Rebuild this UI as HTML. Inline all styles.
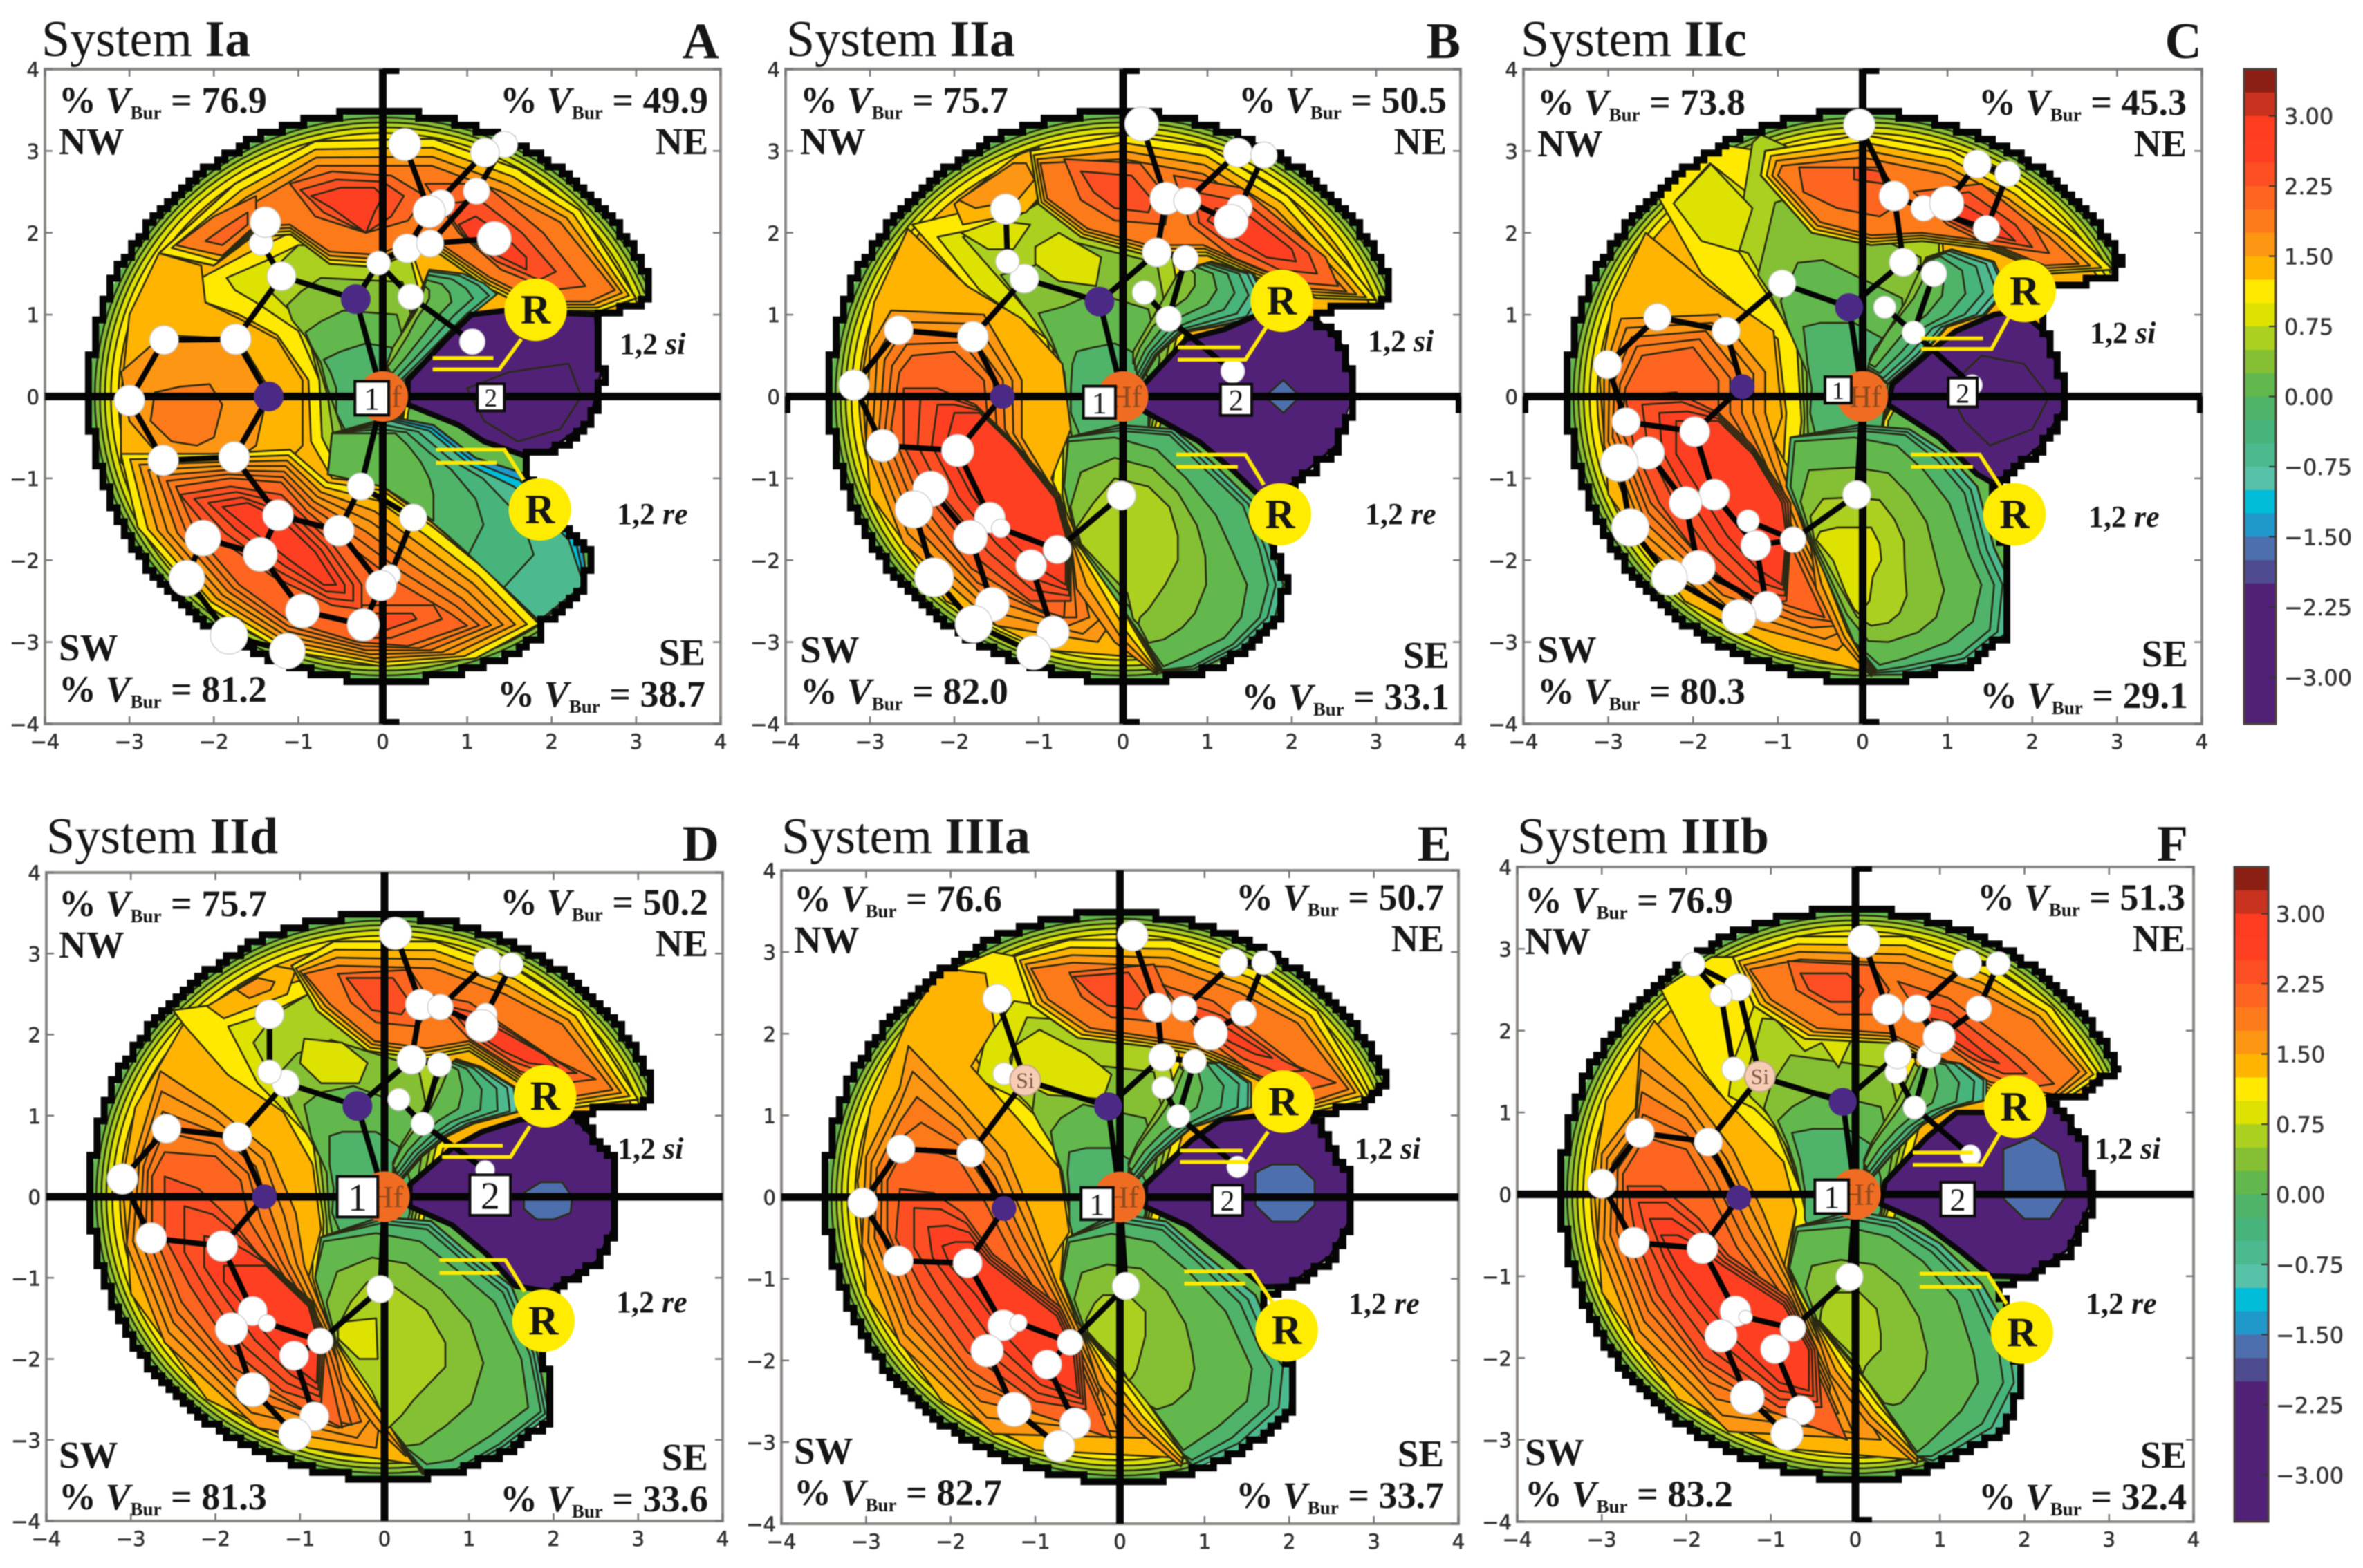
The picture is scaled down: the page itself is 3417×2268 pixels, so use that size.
<!DOCTYPE html>
<html><head><meta charset="utf-8"><title>Steric maps</title>
<style>
html,body{margin:0;padding:0;background:#fff}
svg{display:block;filter:blur(0.9px)}
text{font-family:"Liberation Serif",serif;fill:#161616}
.tk{font-family:"DejaVu Sans",sans-serif;fill:#333;font-size:29px;stroke:#333;stroke-width:.7px}
.cb{font-family:"DejaVu Sans",sans-serif;fill:#3a3636;font-size:32px;stroke:#3a3636;stroke-width:.6px}
</style></head>
<body>
<svg id="fig" xmlns="http://www.w3.org/2000/svg" width="3417" height="2268" viewBox="0 0 3417 2268"></svg>
<script>
/* ---------- values ---------- */
const axisTicks=[-4,-3,-2,-1,0,1,2,3,4];
const colorbarTicks=[3,2.25,1.5,0.75,0,-0.75,-1.5,-2.25,-3];
const bandColors=['#8b1f14','#c8321e','#ff3b20','#ff3f22','#fd4f23','#fd6520','#fd7a1a','#fd9612','#feb400','#ffe900','#dde200','#abd020','#85c034','#62b84c','#4fb369','#46b47b','#4cb98e','#58c2a8','#00bcd8','#2098cc','#4e6fae','#4e4b90','#512178','#512178','#512178','#512178','#512178','#512178'];
const panelTitleRegular=['System ','System ','System ','System ','System ','System '];
const panelTitleBold=['Ia','IIa','IIc','IId','IIIa','IIIb'];
const panelLetters=['A','B','C','D','E','F'];
const vburNW=['76.9','75.7','73.8','75.7','76.6','76.9'];
const vburNE=['49.9','50.5','45.3','50.2','50.7','51.3'];
const vburSW=['81.2','82.0','80.3','81.3','82.7','83.2'];
const vburSE=['38.7','33.1','29.1','33.6','33.7','32.4'];
const rimLevels=[0.25,0.5,0.75,1,1.25];
const rimRadii=[3.41,3.35,3.29,3.22,3.13];
const rimAngles=[[24,303],[24,282],[28,280],[24,285],[24,283],[26,283]];
/* silhouette: closing points after the circular arc, from SE tip back to NE tip */
const edgeA=[[1.84,-2.8],[2.39,-2.32],[2.44,-1.91],[2.1,-1.5],[1.7,-0.9],[1.67,-0.72],[1.95,-0.69],[2.47,-0.31],[2.6,0.28],[2.53,1.0],[3.05,1.14]];
const edgeB=[[0.9,-3.38],[1.45,-3.1],[1.83,-2.68],[1.94,-2.27],[1.8,-1.85],[1.7,-1.4],[1.94,-1.14],[2.55,-0.6],[2.72,0],[2.66,0.58],[2.33,0.94],[2.28,1.05],[3.05,1.12]];
const edgeC=[[1.24,-3.27],[1.68,-2.92],[1.73,-2.27],[1.68,-1.85],[1.5,-1.3],[1.57,-1.08],[2.12,-0.6],[2.4,-0.13],[2.4,0.1],[2.18,0.76],[2.0,1.2],[2.29,1.35],[2.9,1.47],[3.05,1.65]];
const edgeD=[[1.43,-3.14],[1.95,-2.72],[1.9,-1.89],[1.7,-1.4],[1.95,-1.17],[2.52,-0.81],[2.75,-0.33],[2.75,0.45],[2.24,1.05],[2.98,1.11],[3.15,1.29]];
const edgeE=[[1.5,-3.07],[2,-2.59],[2.03,-2.05],[1.8,-1.6],[1.7,-1.2],[2,-1.09],[2.5,-0.73],[2.72,-0.31],[2.72,0.23],[2.33,1.0],[2.94,1.19],[3.15,1.4]];
const edgeF=[[0.93,-3.31],[1.72,-2.9],[1.99,-2.27],[1.8,-1.6],[1.7,-1.1],[2.05,-1.01],[2.52,-0.69],[2.78,-0.15],[2.75,0.63],[2.32,1.16],[2.65,1.19],[3.03,1.52]];
/* contour regions: [levels, outer polygon, inner polygon, line width, spacing power] */
const contoursA=[
[[1,0.75],[[-2.15,1.45],[-1.6,1.75],[-1.1,2.0],[0.3,1.9],[0.6,1],[0.3,-0.2],[0.2,-1.1],[-0.6,-1.0],[-0.85,-0.55],[-0.88,0.2],[-1.25,0.75],[-1.7,1.0],[-2.1,1.15]],[[-1.85,1.45],[-1.4,1.65],[-1,1.85],[0.3,1.8],[0.5,1],[0.25,-0.2],[0.15,-1.05],[-0.5,-0.95],[-0.72,-0.5],[-0.75,0.2],[-1.0,0.8],[-1.5,1.15],[-1.75,1.3]]],
[[0.5,0.25,0,-0.25],[[-1.35,1.45],[-1.2,1.65],[-1,1.85],[0.3,1.8],[0.5,1],[0.25,-0.2],[0.15,-1.05],[-0.5,-0.95],[-0.72,-0.5],[-0.75,0.2],[-0.9,0.8],[-1.1,1.05],[-1.3,1.25]],[[-0.7,0.45],[-0.5,0.55],[-0.2,0.65],[0.1,0.6],[0.2,0.2],[0.2,-0.2],[0.1,-0.55],[-0.1,-0.6],[-0.3,-0.55],[-0.45,-0.4],[-0.55,-0.2],[-0.55,0.1],[-0.62,0.3]]],
[[1.25],[[-2.65,1.75],[-2.15,1.6],[-2.1,1.15],[-1.7,0.95],[-1.25,0.7],[-0.95,0.2],[-0.95,-0.6],[-1.5,-1.2],[-2.5,-1.5],[-3.1,-0.8],[-3.1,0],[-3.0,1.0]]],
[[1.5,1.75],[[-3.1,0.3],[-2.6,0.75],[-1.7,0.7],[-1.35,0.1],[-1.5,-0.6],[-1.75,-0.78],[-2.6,-0.78],[-3.0,-0.3]],[[-2.7,0.05],[-2.4,0.12],[-2.05,0.15],[-1.9,-0.1],[-2.0,-0.5],[-2.2,-0.6],[-2.5,-0.55],[-2.75,-0.3]]],
[[1,1.25,1.5,1.625,1.75,1.875,2],[[-3.1,-0.7],[-2,-0.7],[-1.1,-0.65],[-0.65,-1.05],[0,-1.15],[0.6,-1.6],[1.2,-2.1],[1.85,-2.78],[1.1,-3.2],[0,-3.3],[-1.2,-3.1],[-2.1,-2.55],[-2.9,-1.6]],[[-2.45,-1.1],[-1.8,-1.0],[-1.2,-1.05],[-0.9,-1.4],[-0.3,-1.9],[0.15,-2.25],[0.8,-2.65],[1.0,-2.8],[0.3,-3.05],[-0.3,-3.0],[-1.1,-2.75],[-1.7,-2.3],[-2.2,-1.7]]],
[[2,2.25],[[-0.25,-2.55],[0.6,-2.55],[0.7,-2.72],[0.1,-2.95],[-0.25,-2.95]],[[-0.1,-2.65],[0.35,-2.65],[0.4,-2.72],[0.05,-2.85],[-0.15,-2.85]]],
[[2.25,2.375,2.5,2.625],[[-2.4,-1.2],[-1.8,-1.1],[-1.2,-1.2],[-0.6,-1.8],[-0.25,-2.3],[-0.25,-2.6],[-0.6,-2.55],[-1.3,-2.2],[-2,-1.7]],[[-1.9,-1.35],[-1.6,-1.3],[-1.2,-1.5],[-0.8,-1.9],[-0.55,-2.3],[-0.55,-2.3],[-0.7,-2.3],[-1.1,-2.0],[-1.6,-1.6]]],
[[-1.5,-1.25,-1],[[0.1,-0.25],[0.6,-0.35],[1.1,-0.75],[1.7,-0.95],[2.35,-1.7],[2.42,-2.3],[1.88,-2.78],[1.2,-2.1],[0.6,-1.55],[0,-1.1],[-0.65,-0.95],[-0.6,-0.45]],[[0.1,-0.3],[0.55,-0.42],[1.05,-0.85],[1.55,-1.1],[2.2,-1.75],[2.38,-2.3],[1.85,-2.74],[1.2,-2.1],[0.6,-1.55],[0,-1.1],[-0.65,-0.95],[-0.6,-0.45]],3],
[[-0.75,-0.5,-0.25,0],[[0.1,-0.3],[0.55,-0.42],[1.05,-0.85],[1.55,-1.1],[2.2,-1.75],[2.38,-2.3],[1.85,-2.74],[1.2,-2.1],[0.6,-1.55],[0,-1.1],[-0.65,-0.95],[-0.6,-0.45]],[[-0.1,-0.45],[0.15,-0.45],[0.3,-0.6],[0.45,-0.8],[0.55,-1.0],[0.6,-1.2],[0.6,-1.52],[0.5,-1.45],[0.3,-1.3],[0,-1.1],[-0.65,-0.95],[-0.6,-0.45]]],
[[1,1.25,1.5,1.75],[[-2.65,1.75],[-2,1.6],[-1.55,1.95],[-1.09,1.98],[-0.63,1.62],[-0.06,1.58],[0.52,1.85],[1.26,1.32],[1.78,1.05],[2.59,1.05],[3.0,1.2],[2.33,2.28],[1.6,2.78],[0.6,3.15],[-0.8,3.12],[-1.75,2.6]],[[-2.2,1.95],[-1.85,1.78],[-1.5,2.08],[-1.1,2.1],[-0.63,1.77],[-0.06,1.73],[0.52,1.98],[1.26,1.46],[1.85,1.16],[2.45,1.16],[2.75,1.3],[2.1,2.13],[1.42,2.5],[0.58,2.82],[-0.78,2.82],[-1.55,2.35]],3],
[[2,2.25,2.5],[[-1.1,2.6],[-0.8,2.2],[-0.2,2.0],[0.3,2.15],[0.5,2.45],[0.1,2.7],[-0.6,2.75]],[[-0.85,2.45],[-0.6,2.3],[-0.2,2.0],[-0.1,2.25],[0,2.45],[-0.1,2.55],[-0.5,2.55]]],
[[2,2.25,2.5],[[0.5,2.6],[0.9,2.0],[1.4,1.55],[2.0,1.3],[2.4,1.35],[1.9,2.0],[1.2,2.6]],[[0.9,2.1],[1,1.95],[1.3,1.75],[1.7,1.55],[1.7,1.7],[1.4,2.0],[1.1,2.2]]],
[[1.75,2],[[-2.45,1.85],[-1.9,1.72],[-1.5,2.1],[-1.5,2.45],[-2.0,2.2]],[[-2.1,1.9],[-1.9,1.85],[-1.6,2.1],[-1.6,2.25],[-1.9,2.05]]],
[[-0.75,-0.5,-0.25,0,0.25],[[0.2,0.15],[0.45,0.4],[0.75,0.7],[1.05,1.0],[1.35,1.25],[1.2,1.38],[0.95,1.5],[0.55,1.55],[0.35,1.05],[0.12,0.55],[0.05,0.3]],[[0.05,0.35],[0.15,0.5],[0.3,0.75],[0.4,0.95],[0.5,1.1],[0.55,1.2],[0.55,1.3],[0.5,1.35],[0.4,1.05],[0.12,0.6],[0.05,0.4]],null,1.6],
[[-2.25],[[0.3,0.2],[0.75,0.7],[1.05,1.0],[1.45,1.05],[2.53,1.0],[2.6,0.28],[2.47,-0.31],[1.95,-0.69],[1.67,-0.72],[1.2,-0.55],[0.9,-0.35],[0.3,-0.1]],null,8],
[[-2.5],[[1.0,0.1],[1.5,0.3],[2.2,0.4],[2.35,0],[2.1,-0.4],[1.6,-0.55],[1.2,-0.3]]]
];
const contoursB=[
[[1,0.75],[[-2.5,2.1],[-1.7,2.3],[-0.8,2.6],[0.5,2.3],[0.8,1],[0.4,-0.5],[0.3,-2],[0,-3.2],[-0.7,-2],[-0.85,-1.2],[-0.75,-0.3],[-1.1,0.7],[-1.9,1.4]],[[-2.2,1.95],[-1.5,2.1],[-0.8,2.5],[0.5,2.2],[0.7,1],[0.35,-0.5],[0.2,-2],[-0.1,-2.9],[-0.55,-2],[-0.72,-1.2],[-0.7,-0.3],[-0.9,0.7],[-1.7,1.3]]],
[[0.5,0.25,0,-0.25],[[-1.9,1.95],[-1.4,2.1],[-0.8,2.5],[0.5,2.2],[0.7,1],[0.35,-0.5],[0.2,-2],[-0.1,-2.9],[-0.55,-2],[-0.72,-1.2],[-0.7,-0.3],[-0.85,0.7],[-1.35,1.3]],[[-0.55,0.55],[-0.35,0.6],[-0.1,0.65],[0.2,0.5],[0.3,0.2],[0.3,-0.2],[0.3,-0.5],[0,-0.55],[-0.3,-0.55],[-0.5,-0.5],[-0.62,-0.2],[-0.62,0.1],[-0.6,0.4]]],
[[0.75],[[-1.04,1.83],[-0.76,2.0],[-0.26,1.7],[-0.32,1.35],[-0.76,1.41],[-1.04,1.62]]],
[[0.75],[[-1.92,2.0],[-1.5,2.15],[-1.1,2.1],[-1.3,1.8],[-1.6,1.8]]],
[[1.25],[[-2.55,2.05],[-1.85,1.35],[-1.2,0.95],[-0.72,0.4],[-0.62,-0.4],[-0.85,-1],[-0.55,-1.7],[-0.1,-2.5],[0.35,-3.2],[-0.9,-3.1],[-2.1,-2.5],[-3.0,-1.2],[-3.1,0.2],[-2.95,1.15]]],
[[1.25,1.5],[[-2.0,2.35],[-1.25,2.95],[-1.0,3.05],[-0.85,2.6],[-1.15,2.25],[-1.9,2.1]],[[-1.95,2.4],[-1.3,2.85],[-1.15,2.85],[-1.05,2.65],[-1.25,2.4],[-1.75,2.3]]],
[[1.5,1.625,1.75,1.875,2],[[-3.0,0.6],[-2.75,1.05],[-1.65,1.0],[-1.2,0.2],[-1.2,-0.5],[-0.85,-1.1],[-0.55,-1.8],[-0.1,-2.7],[-0.3,-3.0],[-1.5,-2.8],[-2.6,-1.8],[-3.05,-0.6]],[[-2.65,0.3],[-2.5,0.5],[-2.0,0.55],[-1.65,0.2],[-1.6,-0.3],[-1.3,-0.8],[-0.65,-1.75],[-0.7,-2.7],[-1.0,-2.6],[-1.8,-2.1],[-2.4,-1.3],[-2.75,-0.4]]],
[[2.25,2.375,2.5,2.625],[[-2.6,0.1],[-2.2,0.1],[-1.75,-0.1],[-1.3,-0.55],[-0.75,-1.2],[-0.62,-1.7],[-0.62,-2.5],[-1.1,-2.5],[-1.7,-2.0],[-2.25,-1.3],[-2.6,-0.6]],[[-2.0,-0.2],[-1.9,-0.2],[-1.7,-0.2],[-1.3,-0.6],[-0.8,-1.25],[-0.68,-1.7],[-0.68,-2.3],[-1.0,-2.1],[-1.4,-1.7],[-1.8,-1.2],[-2.1,-0.6]]],
[[1.5,1.25,1,0.75],[[-0.62,-1.75],[-0.55,-2.35],[-0.1,-3.0],[0.4,-3.4],[0.6,-3.0],[0.2,-2.5],[-0.4,-1.7]],[[-0.6,-1.75],[-0.2,-2.2],[0.1,-2.8],[0.42,-3.35],[0.6,-3.0],[0.2,-2.5],[-0.4,-1.7]]],
[[-0.75,-0.5,-0.25],[[-0.05,-0.35],[0.6,-0.4],[1.05,-0.8],[1.55,-1.3],[1.75,-1.85],[1.9,-2.3],[1.8,-2.7],[1.4,-3.08],[0.85,-3.36],[0.45,-3.36],[0.1,-2.75],[-0.55,-1.78],[-0.7,-1.1],[-0.65,-0.5]],[[-0.05,-0.42],[0.55,-0.47],[0.95,-0.87],[1.42,-1.33],[1.62,-1.87],[1.72,-2.3],[1.62,-2.7],[1.3,-3.03],[0.82,-3.3],[0.47,-3.34],[0.1,-2.75],[-0.55,-1.78],[-0.7,-1.1],[-0.65,-0.5]],3],
[[0,0.25,0.5],[[-0.1,-0.5],[0.4,-0.65],[0.75,-1.0],[1.1,-1.45],[1.3,-1.9],[1.47,-2.3],[1.4,-2.7],[1.2,-2.95],[0.8,-3.15],[0.48,-3.3],[0.1,-2.75],[-0.55,-1.78],[-0.7,-1.1],[-0.65,-0.55]],[[-0.1,-1.0],[0.3,-1.1],[0.55,-1.35],[0.65,-1.7],[0.65,-2.0],[0.5,-2.3],[0.3,-2.6],[0.2,-2.7],[0.18,-2.78],[0.12,-2.72],[0.05,-2.4],[-0.5,-1.8],[-0.55,-1.6],[-0.35,-1.3]]],
[[1,1.25,1.5,1.75],[[-1.1,3.0],[0,3.2],[1,3.05],[1.95,2.45],[2.75,1.5],[3.0,1.18],[2.3,1.2],[1.6,1.45],[1,1.72],[0.3,1.72],[-0.5,1.95],[-1,2.35]],[[-0.98,2.85],[0,2.9],[0.95,2.72],[1.75,2.2],[2.5,1.45],[2.65,1.28],[2.2,1.32],[1.55,1.58],[0.95,1.85],[0.3,1.85],[-0.42,2.05],[-0.9,2.42]],3],
[[2,2.25],[[-0.7,2.9],[0.2,2.85],[0.55,2.4],[0.5,2.1],[-0.1,2.15],[-0.5,2.4]],[[-0.5,2.75],[0.1,2.7],[0.35,2.4],[0.3,2.25],[-0.1,2.3],[-0.35,2.5]]],
[[2,2.25,2.5],[[0.6,2.7],[1.4,2.55],[2.4,1.7],[2.55,1.35],[2.0,1.4],[1.3,1.7],[0.8,2.1]],[[1.1,2.3],[1.5,2.2],[2.0,1.8],[2.05,1.65],[1.7,1.7],[1.3,1.95],[1.0,2.15]]],
[[-1.25,-1,-0.75,-0.5,-0.25,0,0.25],[[0.2,0.15],[0.4,0.5],[0.7,0.78],[1.1,0.85],[1.55,0.95],[1.7,1.2],[1.55,1.5],[1.05,1.65],[0.7,1.55],[0.45,1.05],[0.15,0.5]],[[0.12,0.4],[0.2,0.6],[0.35,0.85],[0.55,1.05],[0.75,1.2],[0.85,1.35],[0.85,1.5],[0.8,1.55],[0.65,1.5],[0.4,1.05],[0.12,0.55]],null,2],
[[-2.25],[[0.25,0.15],[0.75,0.7],[1.2,0.82],[1.6,1.0],[2.33,0.94],[2.66,0.58],[2.75,0],[2.55,-0.6],[1.94,-1.14],[1.7,-1.3],[1.3,-0.9],[0.9,-0.55],[0.2,-0.15]],null,8],
[[-1.75],[[1.68,0],[1.9,0.2],[2.1,0],[1.9,-0.2]]]
];
const contoursC=[
[[1,0.75],[[-2.5,2.6],[-1.8,3.1],[-1.2,3.0],[0.9,2.5],[1.0,1],[0.3,-0.3],[0.2,-2],[-0.1,-3.2],[-0.65,-2],[-0.95,-1.1],[-0.9,-0.2],[-1.0,0.7],[-1.9,1.5]],[[-2.2,2.4],[-1.8,2.85],[-1.25,2.4],[0.9,2.2],[0.9,1],[0.25,-0.3],[0.1,-2],[-0.15,-2.9],[-0.6,-2],[-0.8,-1.1],[-0.72,-0.3],[-0.78,0.7],[-1.45,1.75]]],
[[0.5,0.25,0,-0.25],[[-1.5,1.8],[-1.3,3.1],[-1.2,3.2],[0.9,2.2],[0.9,1],[0.25,-0.3],[0.1,-2],[-0.15,-2.9],[-0.6,-2],[-0.8,-1.1],[-0.72,-0.3],[-0.78,0.7],[-1.35,1.75]],[[-0.7,0.85],[-0.5,0.9],[-0.1,0.9],[0.25,0.7],[0.3,0.2],[0.25,-0.2],[0.2,-0.55],[-0.1,-0.55],[-0.3,-0.55],[-0.55,-0.5],[-0.62,-0.2],[-0.6,0.1],[-0.65,0.4]]],
[[0.75],[[-2.23,2.36],[-1.79,2.84],[-1.3,2.3],[-1.46,1.77],[-1.9,1.9]]],
[[1.25],[[-2.56,2.0],[-1.8,1.35],[-1.05,0.8],[-0.95,-0.25],[-1.05,-0.55],[-0.75,-1.1],[-0.65,-1.7],[-0.2,-2.6],[0,-3.35],[-1,-3.1],[-2.1,-2.5],[-3,-1.2],[-3.1,0.2],[-2.95,1.15]]],
[[1.5,1.625,1.75,1.875,2],[[-3.05,0.3],[-2.85,0.95],[-1.7,1.0],[-1.15,0.3],[-1.15,-0.2],[-0.95,-0.9],[-0.65,-1.75],[-0.1,-2.9],[-0.3,-3.1],[-1.5,-2.75],[-2.6,-1.8],[-3.05,-0.6]],[[-2.8,0.1],[-2.6,0.5],[-2.0,0.6],[-1.7,0.2],[-1.7,-0.2],[-1.4,-0.6],[-0.9,-1.7],[-0.45,-2.7],[-0.9,-2.55],[-1.8,-2.1],[-2.5,-1.3],[-2.85,-0.4]]],
[[2.25,2.375,2.5,2.625],[[-2.8,0],[-2.2,0.05],[-1.7,-0.2],[-1.3,-0.6],[-0.85,-1.3],[-0.85,-1.7],[-0.9,-2.5],[-1.3,-2.55],[-1.9,-2.0],[-2.4,-1.3],[-2.7,-0.6]],[[-2.2,-0.3],[-2,-0.3],[-1.7,-0.3],[-1.3,-0.7],[-0.95,-1.3],[-0.9,-1.7],[-0.95,-2.3],[-1.25,-2.1],[-1.6,-1.7],[-1.9,-1.2],[-2.2,-0.7]]],
[[1.5,1.25,1,0.75],[[-0.62,-1.75],[-0.55,-2.35],[-0.25,-3.0],[0.1,-3.42],[0.2,-3],[0,-2.5],[-0.5,-1.7]],[[-0.6,-1.75],[-0.35,-2.2],[-0.15,-2.8],[0.12,-3.38],[0.2,-3],[0,-2.5],[-0.5,-1.7]]],
[[-0.75,-0.5,-0.25],[[-0.05,-0.35],[0.55,-0.4],[1.0,-0.7],[1.35,-1.1],[1.55,-1.85],[1.75,-2.3],[1.68,-2.9],[1.25,-3.25],[0.5,-3.4],[0.15,-3.4],[-0.1,-3],[-0.62,-1.75],[-0.9,-1.1],[-0.85,-0.5]],[[-0.05,-0.42],[0.5,-0.47],[0.88,-0.78],[1.2,-1.18],[1.38,-1.9],[1.55,-2.3],[1.5,-2.85],[1.15,-3.15],[0.5,-3.3],[0.17,-3.35],[-0.1,-3],[-0.62,-1.75],[-0.9,-1.1],[-0.85,-0.5]],3],
[[0,0.25,0.5,0.75],[[-0.1,-0.5],[0.4,-0.6],[0.72,-0.9],[1.02,-1.3],[1.25,-1.95],[1.4,-2.3],[1.3,-2.75],[1.0,-3.0],[0.5,-3.2],[0.2,-3.28],[-0.1,-3],[-0.62,-1.75],[-0.85,-1.1],[-0.8,-0.55]],[[-0.1,-1.6],[0.1,-1.6],[0.2,-1.8],[0.22,-2.0],[0.12,-2.2],[0.08,-2.5],[0,-2.6],[-0.05,-2.65],[-0.1,-2.6],[-0.2,-2.4],[-0.35,-2],[-0.55,-1.75],[-0.5,-1.65],[-0.3,-1.6]]],
[[1,1.25,1.5,1.75],[[-1.2,2.7],[-0.6,2.0],[0.1,1.85],[0.7,1.9],[1.5,1.8],[2.2,1.5],[2.95,1.55],[2.55,1.95],[1.85,2.55],[1.05,3.0],[0,3.2],[-1.15,3.0]],[[-1.0,2.7],[-0.5,2.13],[0.1,1.97],[0.7,2.0],[1.45,1.9],[2.15,1.6],[2.55,1.62],[2.2,1.95],[1.65,2.35],[0.95,2.72],[0,2.92],[-0.95,2.82]],3],
[[2],[[-0.75,2.8],[0.2,2.8],[0.5,2.4],[0.2,2.2],[-0.3,2.3],[-0.7,2.5]]],
[[2.25],[[-0.1,2.8],[0.2,2.75],[0.25,2.6],[-0.1,2.65]]],
[[2,2.25,2.5],[[0.6,2.5],[1.0,2.1],[1.5,1.85],[2.2,1.75],[2,2.1],[1.4,2.6]],[[0.9,2.35],[1,2.2],[1.4,2],[1.8,1.9],[1.6,2.1],[1.1,2.4]]],
[[-1.25,-1,-0.75,-0.5,-0.25,0,0.25],[[0.3,0.15],[0.7,0.5],[1.0,0.85],[1.45,1.0],[1.7,1.3],[1.55,1.65],[1.05,1.8],[0.75,1.7],[0.5,1.1],[0.1,0.5],[0.05,0.3]],[[0.08,0.45],[0.15,0.6],[0.3,0.8],[0.45,1.0],[0.6,1.2],[0.7,1.4],[0.75,1.6],[0.7,1.6],[0.5,1.15],[0.15,0.55],[0.08,0.45]],null,2],
[[-2.25],[[0.35,0.15],[0.8,0.55],[1.1,0.8],[1.55,1.0],[1.85,1.05],[2.18,0.76],[2.4,0.1],[2.4,-0.13],[2.12,-0.6],[1.57,-1.08],[1.35,-0.95],[0.9,-0.5],[0.3,-0.1]],null,8],
[[-2.5],[[1.0,0.1],[1.4,0.5],[1.9,0.4],[2.2,0],[2.0,-0.4],[1.5,-0.6],[1.2,-0.3]]]
];
const contoursD=[
[[1,0.75],[[-2.5,2.3],[-1.8,2.4],[-0.9,2.7],[0.5,2.3],[0.8,1],[0.4,-0.5],[0.3,-2],[0.4,-3.3],[-0.6,-1.9],[-0.85,-1.0],[-0.85,-0.3],[-1.05,0.7],[-1.9,1.45]],[[-1.85,2.1],[-1.4,2.25],[-0.9,2.5],[0.5,2.1],[0.7,1],[0.35,-0.5],[0.25,-2],[0.3,-3.1],[-0.5,-1.9],[-0.75,-1.0],[-0.72,-0.3],[-0.85,0.7],[-1.5,1.4]]],
[[0.5,0.25,0,-0.25],[[-1.55,1.9],[-1.3,2.25],[-0.9,2.5],[0.5,2.1],[0.7,1],[0.35,-0.5],[0.25,-2],[0.3,-3.1],[-0.5,-1.9],[-0.75,-1.0],[-0.72,-0.3],[-0.85,0.7],[-1.3,1.4]],[[-0.65,0.75],[-0.5,0.8],[-0.1,0.8],[0.2,0.6],[0.3,0.2],[0.3,-0.2],[0.2,-0.55],[-0.1,-0.55],[-0.3,-0.55],[-0.5,-0.5],[-0.62,-0.2],[-0.6,0.1],[-0.65,0.4]]],
[[0.75],[[-0.95,1.95],[-0.5,1.9],[-0.2,1.65],[-0.3,1.4],[-0.75,1.4],[-1.0,1.65]]],
[[1.25],[[-2.38,2.13],[-1.85,1.5],[-1.2,1.05],[-0.85,0.4],[-0.75,-0.4],[-0.9,-1.0],[-0.6,-1.7],[-0.3,-2.4],[0.35,-3.3],[-0.9,-3.1],[-2.1,-2.5],[-3,-1.2],[-3.1,0.2],[-2.95,1.1]]],
[[1.25,1.5],[[-2.1,2.35],[-1.3,2.85],[-1.05,2.8],[-1.15,2.5],[-1.9,2.2]],[[-1.75,2.55],[-1.5,2.7],[-1.3,2.65],[-1.35,2.55],[-1.6,2.45]]],
[[1.5,1.625,1.75,1.875,2],[[-2.95,0.5],[-2.65,1.55],[-2.0,1.1],[-1.35,0.55],[-1.05,-0.2],[-0.95,-0.85],[-0.6,-1.75],[-0.05,-2.7],[-0.1,-3.1],[-1.5,-2.85],[-2.6,-1.8],[-3.05,-0.6]],[[-2.75,0.25],[-2.6,0.55],[-2.0,0.5],[-1.7,0.2],[-1.6,-0.3],[-1.3,-0.8],[-0.75,-1.7],[-0.5,-2.85],[-1.0,-2.6],[-1.8,-2.1],[-2.4,-1.3],[-2.75,-0.4]]],
[[2.25,2.375,2.5,2.625],[[-2.6,0.25],[-2.2,0.1],[-1.8,-0.3],[-1.5,-0.7],[-0.85,-1.3],[-0.7,-1.8],[-0.75,-2.55],[-1.2,-2.4],[-1.8,-1.9],[-2.3,-1.1],[-2.6,-0.5]],[[-1.9,-0.85],[-1.7,-0.85],[-1.55,-0.85],[-1.4,-0.85],[-0.9,-1.35],[-0.78,-1.8],[-0.8,-2.3],[-1.05,-2.1],[-1.4,-1.7],[-1.7,-1.3],[-1.9,-1.05]]],
[[1.5,1.25,1,0.75],[[-0.62,-1.75],[-0.5,-2.3],[-0.1,-2.85],[0.25,-3.2],[0.3,-2.9],[0,-2.4],[-0.5,-1.7]],[[-0.6,-1.75],[-0.25,-2.15],[0.02,-2.6],[0.22,-3.08],[0.3,-2.9],[0,-2.4],[-0.5,-1.7]]],
[[-0.75,-0.5,-0.25],[[-0.05,-0.25],[0.55,-0.3],[1.0,-0.7],[1.5,-1.1],[1.8,-1.9],[1.95,-2.7],[1.43,-3.12],[0.85,-3.42],[0.45,-3.42],[0.2,-3.05],[-0.1,-2.4],[-0.6,-1.75],[-0.82,-1.0],[-0.75,-0.5]],[[-0.05,-0.33],[0.5,-0.4],[0.92,-0.78],[1.4,-1.18],[1.72,-1.95],[1.85,-2.65],[1.36,-3.05],[0.85,-3.36],[0.47,-3.38],[0.2,-3.05],[-0.1,-2.4],[-0.6,-1.75],[-0.82,-1.0],[-0.75,-0.5]],3],
[[0,0.25,0.5],[[-0.1,-0.45],[0.42,-0.55],[0.85,-0.9],[1.3,-1.3],[1.62,-2.0],[1.7,-2.6],[1.25,-2.95],[0.8,-3.25],[0.5,-3.3],[0.2,-3.05],[-0.1,-2.4],[-0.6,-1.75],[-0.82,-1.0],[-0.72,-0.55]],[[-0.2,-1.05],[0.1,-1.1],[0.5,-1.4],[0.72,-1.8],[0.72,-2.1],[0.35,-2.5],[0.2,-2.7],[0.05,-2.85],[0,-2.85],[-0.02,-2.7],[-0.15,-2.4],[-0.55,-1.8],[-0.55,-1.6],[-0.4,-1.3]]],
[[0.75],[[-0.55,-1.55],[-0.1,-1.5],[-0.08,-2.0],[-0.3,-2.0],[-0.55,-1.75]]],
[[1,1.25,1.5,1.75],[[-1.1,2.85],[-0.8,2.3],[-0.2,1.8],[0.5,1.7],[1,1.8],[1.6,1.4],[2.25,1.1],[3,1.2],[2.33,2.28],[1.6,2.78],[0.6,3.15],[-0.6,3.15]],[[-0.95,2.75],[-0.65,2.38],[-0.12,1.92],[0.5,1.83],[1,1.92],[1.6,1.52],[2.2,1.23],[2.7,1.32],[2.1,2.13],[1.42,2.5],[0.58,2.82],[-0.55,2.85]],3],
[[2,2.25],[[-0.55,2.75],[0.3,2.8],[0.55,2.4],[0.4,2.1],[-0.1,2.15],[-0.4,2.4]],[[-0.45,2.7],[0.1,2.7],[0.3,2.4],[0.2,2.25],[-0.15,2.3],[-0.3,2.5]]],
[[2,2.25,2.5],[[0.5,2.5],[1.0,2.4],[2.0,1.7],[2.5,1.45],[2.1,1.4],[1.6,1.55],[1.0,1.95]],[[1.0,2.2],[1.3,2.1],[1.9,1.75],[2.05,1.6],[1.7,1.65],[1.4,1.8],[1.1,2]]],
[[-1.25,-1,-0.75,-0.5,-0.25,0,0.25],[[0.2,0.2],[0.45,0.5],[0.75,0.75],[1.05,0.9],[1.6,1.05],[1.55,1.35],[1.15,1.6],[0.85,1.7],[0.55,1.1],[0.2,0.6],[0.1,0.3]],[[0.1,0.4],[0.2,0.6],[0.3,0.75],[0.45,0.95],[0.55,1.1],[0.65,1.3],[0.75,1.55],[0.7,1.6],[0.5,1.15],[0.2,0.65],[0.1,0.42]],null,2],
[[-2.25],[[0.3,0.15],[0.8,0.6],[1.15,0.8],[1.6,0.95],[2.24,1.0],[2.75,0.45],[2.75,-0.33],[2.52,-0.81],[1.95,-1.17],[1.55,-1.1],[1.2,-0.7],[0.8,-0.35],[0.3,-0.12]],null,8],
[[-1.75],[[1.65,0.05],[1.85,0.18],[2.1,0.18],[2.22,0],[2.2,-0.2],[2.0,-0.28],[1.8,-0.28],[1.65,-0.15]]]
];
const contoursE=[
[[1,0.75],[[-2.2,2.7],[-1.5,3.0],[-1.25,2.95],[0.6,2.4],[0.8,1],[0.4,-0.5],[0.4,-2],[0.75,-3.1],[-0.45,-1.7],[-0.7,-1.0],[-0.65,-0.3],[-1.25,0.85],[-1.65,1.6]],[[-1.7,1.45],[-1.6,1.9],[-1.25,2.4],[0.5,2.1],[0.7,1],[0.3,-0.5],[0.3,-2],[0.6,-2.9],[-0.4,-1.65],[-0.62,-1.0],[-0.55,-0.3],[-0.85,0.85],[-1.2,1.2]]],
[[0.5,0.25,0,-0.25],[[-1.25,1.3],[-1.3,1.7],[-1.1,2.2],[0.5,2.1],[0.7,1],[0.3,-0.5],[0.3,-2],[0.6,-2.9],[-0.4,-1.65],[-0.62,-1.0],[-0.55,-0.3],[-0.85,0.85],[-1.1,1.15]],[[-0.6,0.55],[-0.4,0.6],[-0.1,0.6],[0.2,0.4],[0.3,0.2],[0.3,-0.2],[0.2,-0.5],[-0.1,-0.6],[-0.3,-0.6],[-0.5,-0.7],[-0.6,-0.3],[-0.6,0.05],[-0.62,0.3]]],
[[0.75],[[-0.95,2.05],[-0.4,1.75],[-0.1,1.5],[-0.2,1.2],[-0.85,1.25],[-1.3,1.5],[-1.25,1.85]]],
[[1.25],[[-2.1,2.8],[-1.59,2.74],[-1.48,2.08],[-1.76,1.6],[-1.2,0.95],[-0.71,0.35],[-0.6,-0.43],[-0.93,-0.97],[-0.43,-1.63],[0.18,-2.35],[0.67,-3.19],[-1,-3.1],[-2.1,-2.5],[-3,-1.2],[-3.1,0.2],[-2.95,1.1],[-2.5,2.2]]],
[[1.5,1.625,1.75,1.875,2],[[-3.0,0.5],[-2.6,1.35],[-2.5,1.85],[-1.9,1.2],[-1.35,0.55],[-1.05,-0.2],[-0.75,-1.05],[-0.4,-1.8],[0.3,-2.95],[-1.5,-2.9],[-2.6,-1.8],[-3.05,-0.6]],[[-2.75,0.2],[-2.6,0.5],[-2.3,0.6],[-1.9,0.45],[-1.6,-0.05],[-1.25,-0.75],[-0.6,-1.75],[-0.1,-2.95],[-1,-2.65],[-1.8,-2.1],[-2.4,-1.3],[-2.75,-0.4]]],
[[2.25,2.375,2.5,2.625],[[-2.6,0.1],[-2.2,0.05],[-1.85,-0.2],[-1.5,-0.7],[-0.7,-1.35],[-0.45,-1.9],[-0.4,-2.6],[-1,-2.5],[-1.8,-1.9],[-2.35,-1.1],[-2.65,-0.5]],[[-2.1,-0.6],[-1.95,-0.55],[-1.75,-0.55],[-1.55,-0.8],[-0.75,-1.45],[-0.55,-1.9],[-0.5,-2.4],[-0.9,-2.2],[-1.35,-1.7],[-1.7,-1.2],[-2,-0.85]]],
[[1.5,1.25,1,0.75],[[-0.45,-1.65],[-0.25,-2.3],[0.2,-2.85],[0.72,-3.3],[0.8,-3.0],[0.3,-2.3],[-0.35,-1.6]],[[-0.43,-1.65],[-0.02,-2.15],[0.3,-2.6],[0.74,-3.15],[0.8,-3.0],[0.3,-2.3],[-0.35,-1.6]]],
[[-0.75,-0.5,-0.25],[[-0.05,-0.2],[0.55,-0.3],[1.0,-0.7],[1.6,-1.2],[1.85,-1.8],[2.05,-2.05],[2.0,-2.6],[1.5,-3.07],[0.85,-3.34],[0.75,-3.15],[0.25,-2.4],[-0.43,-1.65],[-0.7,-1.0],[-0.62,-0.5]],[[-0.05,-0.3],[0.5,-0.4],[0.9,-0.78],[1.42,-1.3],[1.65,-1.85],[1.8,-2.1],[1.75,-2.55],[1.32,-2.95],[0.85,-3.22],[0.75,-3.15],[0.25,-2.4],[-0.43,-1.65],[-0.7,-1.0],[-0.62,-0.5]],3],
[[0,0.25,0.5],[[-0.1,-0.45],[0.4,-0.55],[0.8,-0.9],[1.25,-1.4],[1.45,-1.85],[1.56,-2.1],[1.5,-2.5],[1.15,-2.82],[0.82,-3.05],[0.75,-3.1],[0.25,-2.4],[-0.43,-1.65],[-0.68,-1.0],[-0.6,-0.55]],[[-0.2,-1.2],[0.1,-1.2],[0.3,-1.4],[0.3,-1.7],[0.25,-1.9],[0.2,-2.1],[0.15,-2.2],[0.1,-2.25],[0.05,-2.15],[-0.05,-2.0],[-0.25,-1.8],[-0.38,-1.65],[-0.4,-1.5],[-0.3,-1.3]]],
[[1,1.25,1.5,1.75],[[-1.25,2.95],[-1.05,2.35],[-0.5,1.95],[0.3,1.85],[0.9,1.75],[1.6,1.45],[2.3,1.05],[2.95,1.2],[2.33,2.28],[1.6,2.78],[0.6,3.15],[-0.6,3.15]],[[-1.05,2.8],[-0.85,2.42],[-0.35,2.07],[0.3,1.97],[0.9,1.87],[1.6,1.55],[2.3,1.18],[2.7,1.32],[2.1,2.13],[1.42,2.5],[0.58,2.82],[-0.55,2.87]],3],
[[2,2.25],[[-0.6,2.75],[0.4,2.85],[0.6,2.4],[0.4,2.15],[-0.1,2.2],[-0.45,2.45]],[[-0.55,2.7],[0.1,2.75],[0.3,2.45],[0.2,2.3],[-0.15,2.35],[-0.35,2.5]]],
[[2,2.25,2.5],[[0.5,2.6],[1.1,2.4],[2.1,1.6],[2.55,1.4],[2.15,1.3],[1.6,1.5],[1.0,1.95]],[[1.05,2.15],[1.3,2.05],[1.75,1.75],[1.8,1.7],[1.6,1.75],[1.3,1.9],[1.1,2.05]]],
[[-1,-0.75,-0.5,-0.25,0,0.25],[[0.2,0.2],[0.45,0.5],[0.85,0.85],[1.15,0.95],[1.55,1.1],[1.55,1.4],[1.2,1.65],[0.85,1.65],[0.55,1.05],[0.2,0.6],[0.1,0.3]],[[0.1,0.4],[0.2,0.6],[0.3,0.75],[0.45,0.95],[0.55,1.1],[0.65,1.3],[0.75,1.55],[0.7,1.6],[0.5,1.15],[0.2,0.65],[0.1,0.42]],null,2],
[[-2.25],[[0.3,0.15],[0.85,0.7],[1.2,0.95],[1.7,1.0],[2.33,1.0],[2.72,0.4],[2.72,-0.31],[2.5,-0.73],[2,-1.09],[1.7,-1.1],[1.3,-0.75],[0.8,-0.35],[0.3,-0.12]],null,8],
[[-1.75],[[1.6,0.3],[1.8,0.4],[2.1,0.4],[2.3,0.2],[2.3,-0.1],[2.1,-0.3],[1.8,-0.3],[1.6,-0.1]]]
];
const contoursF=[
[[1,0.75],[[-2.3,2.5],[-1.7,2.9],[-1.45,2.9],[0.6,2.4],[0.8,1],[0.4,-0.5],[0.3,-2],[0.7,-3.2],[-0.6,-1.5],[-0.8,-0.9],[-0.7,-0.2],[-1.35,0.9],[-1.8,1.5]],[[-1.5,1.2],[-1.45,1.6],[-1.2,2.3],[0.5,2.0],[0.7,1],[0.3,-0.5],[0.25,-2],[0.6,-3.0],[-0.5,-1.5],[-0.7,-0.9],[-0.55,-0.2],[-0.95,0.8],[-1.2,1.05]]],
[[0.5,0.25,0,-0.25],[[-1.25,1.2],[-1.25,1.6],[-1.1,2.15],[0.5,2.0],[0.7,1],[0.3,-0.5],[0.25,-2],[0.6,-3.0],[-0.5,-1.5],[-0.7,-0.9],[-0.55,-0.2],[-0.9,0.8],[-1.1,1.05]],[[-0.75,0.75],[-0.5,0.8],[-0.1,0.8],[0.2,0.6],[0.3,0.2],[0.3,-0.2],[0.2,-0.5],[-0.1,-0.6],[-0.3,-0.6],[-0.45,-0.7],[-0.6,-0.3],[-0.6,0.05],[-0.65,0.4]]],
[[0.75],[[-1.0,2.2],[-0.6,1.75],[-0.4,1.85],[-0.2,1.55],[0,2.0],[-0.8,2.3]]],
[[1.25],[[-2.38,2.12],[-1.9,1.55],[-1.35,0.95],[-0.85,0.4],[-0.7,-0.2],[-0.85,-0.9],[-0.55,-1.5],[-0.3,-2.1],[0.73,-3.25],[-0.9,-3.1],[-2.1,-2.5],[-3,-1.2],[-3.1,0.2],[-2.95,1.15]]],
[[1.5,1.625,1.75,1.875,2],[[-3,0.5],[-2.6,1.05],[-2.55,1.8],[-2.0,1.3],[-1.45,0.55],[-1.1,-0.2],[-0.85,-0.85],[-0.5,-1.7],[0.3,-3.0],[-1.5,-2.9],[-2.6,-1.8],[-3.05,-0.6]],[[-2.75,0.25],[-2.6,0.5],[-2.5,0.7],[-2,0.55],[-1.75,0.1],[-1.4,-0.65],[-0.65,-1.7],[-0.1,-3.0],[-1,-2.65],[-1.8,-2.1],[-2.4,-1.3],[-2.75,-0.4]]],
[[2.25,2.375,2.5,2.625],[[-2.7,0.1],[-2.3,0.1],[-1.85,-0.3],[-1.5,-0.75],[-0.8,-1.25],[-0.45,-1.9],[-0.4,-2.6],[-0.9,-2.6],[-1.8,-2],[-2.35,-1.2],[-2.6,-0.5]],[[-2.3,-0.5],[-2.1,-0.5],[-1.9,-0.6],[-1.6,-0.85],[-0.85,-1.35],[-0.55,-1.9],[-0.55,-2.4],[-0.9,-2.3],[-1.4,-1.8],[-1.8,-1.3],[-2.1,-0.9]]],
[[1.5,1.25,1,0.75],[[-0.52,-1.5],[-0.3,-2.2],[0.15,-2.8],[0.72,-3.3],[0.8,-3.0],[0.2,-2.2],[-0.42,-1.45]],[[-0.5,-1.5],[-0.1,-2.05],[0.25,-2.55],[0.74,-3.15],[0.8,-3.0],[0.2,-2.2],[-0.42,-1.45]]],
[[-0.75,-0.5,-0.25],[[-0.05,-0.2],[0.5,-0.3],[1.0,-0.6],[1.5,-1.1],[1.95,-1.9],[2.0,-2.3],[1.72,-2.9],[1.25,-3.15],[0.93,-3.31],[0.73,-3.2],[0.15,-2.3],[-0.5,-1.5],[-0.8,-0.9],[-0.7,-0.4]],[[-0.05,-0.3],[0.45,-0.4],[0.9,-0.7],[1.38,-1.2],[1.7,-1.95],[1.75,-2.3],[1.5,-2.8],[1.15,-3.05],[0.9,-3.2],[0.73,-3.2],[0.15,-2.3],[-0.5,-1.5],[-0.8,-0.9],[-0.7,-0.4]],3],
[[0,0.25,0.5],[[-0.1,-0.4],[0.4,-0.52],[0.8,-0.82],[1.2,-1.3],[1.4,-1.95],[1.45,-2.3],[1.25,-2.65],[1.0,-2.9],[0.85,-3.05],[0.73,-3.15],[0.15,-2.3],[-0.5,-1.5],[-0.78,-0.9],[-0.68,-0.45]],[[-0.25,-1.2],[0.05,-1.2],[0.25,-1.4],[0.3,-1.7],[0.3,-1.9],[0.2,-2.0],[0.12,-2.1],[0.08,-2.2],[0.05,-2.1],[-0.05,-1.95],[-0.25,-1.75],[-0.42,-1.55],[-0.4,-1.4],[-0.35,-1.3]]],
[[1,1.25,1.5,1.75],[[-1.45,2.9],[-1.2,2.3],[-0.6,1.9],[0.4,1.85],[1,1.55],[1.6,1.25],[2.4,1.1],[2.9,1.45],[2.33,2.28],[1.6,2.78],[0.6,3.15],[-0.7,3.15]],[[-1.25,2.75],[-1,2.38],[-0.45,2.03],[0.4,1.97],[1,1.67],[1.6,1.37],[2.35,1.22],[2.65,1.5],[2.1,2.13],[1.42,2.5],[0.58,2.82],[-0.65,2.87]],3],
[[2,2.25],[[-0.8,2.85],[0.2,2.8],[0.4,2.5],[0.3,2.2],[-0.2,2.2],[-0.7,2.5]],[[-0.65,2.7],[-0.1,2.7],[0.1,2.5],[0,2.35],[-0.3,2.35],[-0.55,2.5]]],
[[2,2.25,2.5],[[0.5,2.6],[1.1,2.4],[2.0,1.7],[2.35,1.35],[2.0,1.3],[1.5,1.5],[0.9,1.95]],[[0.9,2.15],[1.1,2.1],[1.5,1.75],[1.7,1.6],[1.5,1.65],[1.2,1.85],[0.95,2.0]]],
[[-1,-0.75,-0.5,-0.25,0,0.25],[[0.2,0.2],[0.45,0.5],[0.8,0.85],[1.15,1.05],[1.55,1.15],[1.55,1.4],[1.25,1.6],[0.95,1.65],[0.6,1.1],[0.2,0.6],[0.1,0.3]],[[0.1,0.4],[0.2,0.6],[0.3,0.75],[0.45,0.95],[0.55,1.1],[0.65,1.3],[0.75,1.55],[0.7,1.6],[0.5,1.15],[0.2,0.65],[0.1,0.42]],null,2],
[[-2.25],[[0.35,0.15],[0.85,0.7],[1.2,1.0],[1.7,1.0],[2.32,1.16],[2.75,0.63],[2.78,-0.15],[2.52,-0.69],[2.05,-1.01],[1.6,-1.0],[1.25,-0.7],[0.8,-0.35],[0.3,-0.12]],null,8],
[[-1.75],[[1.75,0.55],[2.1,0.7],[2.4,0.5],[2.5,0],[2.3,-0.3],[2,-0.3],[1.75,-0.05]]]
];
/* atoms [x, y, radius] in map units; index 0,1 = ligand N atoms */
const atomsA=[[-1.35,0,.17],[-.32,1.19,.17],[-3.0,-.05,.18],[-2.59,.69,.17],[-1.74,.7,.18],[-1.76,-.74,.18],[-2.6,-.78,.18],[-1.2,1.47,.17],[-1.44,1.87,.14],[-1.39,2.13,.18],[-.05,1.63,.14],[.29,1.81,.17],[.56,1.87,.16],[.33,1.22,.15],[1.06,.67,.15],[.69,2.36,.16],[.26,3.08,.19],[.55,2.26,.19],[1.44,3.08,.155],[1.21,2.98,.17],[1.11,2.51,.155],[1.32,1.93,.2],[-.26,-1.1,.16],[.36,-1.48,.16],[-1.24,-1.45,.18],[-.52,-1.64,.18],[-1.45,-1.93,.2],[-2.13,-1.73,.21],[-2.32,-2.22,.21],[-.95,-2.62,.2],[-.23,-2.79,.19],[.09,-2.18,.12],[-.02,-2.31,.18],[-1.82,-2.92,.22],[-1.13,-3.11,.21]];
const bondsA=[[2,3],[3,4],[4,0],[0,5],[5,6],[6,2],[4,7],[7,1],[7,8],[8,9],[1,-1],[1,10],[10,11],[11,17],[17,16],[17,19],[19,18],[18,20],[20,12],[12,21],[10,13],[13,14],[11,12],[-1,22],[22,25],[25,24],[24,5],[24,26],[26,27],[27,28],[28,33],[33,34],[26,29],[29,30],[30,32],[32,25],[32,31],[31,23],[23,22]];
const atomsB=[[-1.43,0,.14],[-.28,1.16,.17],[-3.19,.14,.18],[-2.66,.81,.17],[-1.78,.73,.18],[-1.96,-.66,.19],[-2.85,-.6,.19],[-1.17,1.44,.17],[-1.37,1.65,.14],[-1.39,2.29,.18],[.25,1.27,.14],[.54,.95,.15],[.4,1.76,.17],[.74,1.69,.15],[.22,3.33,.2],[.51,2.42,.19],[.76,2.39,.16],[1.36,2.98,.17],[1.67,2.95,.155],[1.38,2.31,.15],[1.28,2.14,.2],[1.3,.31,.14],[-.02,-1.21,.17],[-.78,-1.87,.165],[-1.09,-2.06,.18],[-1.58,-1.48,.18],[-1.45,-1.61,.11],[-1.81,-1.72,.2],[-2.28,-1.13,.21],[-2.48,-1.38,.22],[-2.24,-2.21,.23],[-1.55,-2.54,.2],[-1.77,-2.78,.22],[-.83,-2.88,.19],[-1.06,-3.13,.2]];
const bondsB=[[2,3],[3,4],[4,0],[0,5],[5,6],[6,2],[4,7],[7,1],[7,8],[8,9],[1,-1],[1,12],[12,15],[15,14],[15,16],[16,20],[20,19],[19,18],[18,17],[17,16],[12,13],[13,11],[11,10],[11,21],[-1,22],[22,23],[23,24],[23,26],[26,25],[25,5],[25,27],[27,28],[28,29],[29,30],[30,32],[32,34],[34,33],[33,24],[27,31],[31,32]];
const atomsC=[[-1.42,.12,.14],[-.16,1.09,.16],[-3.01,.39,.165],[-2.42,.97,.16],[-1.61,.8,.165],[-1.98,-.43,.175],[-2.79,-.31,.165],[-.95,1.38,.16],null,null,[.26,1.09,.13],[.6,.78,.135],[.48,1.64,.165],[.84,1.5,.15],[-.04,3.32,.185],[.37,2.45,.175],[.72,2.3,.15],[1.35,2.84,.165],[1.71,2.72,.15],[1.46,2.05,.155],[.99,2.36,.2],[1.29,.14,.12],[-.07,-1.2,.165],[-.82,-1.75,.15],[-1.26,-1.82,.175],[-1.75,-1.2,.18],[-1.35,-1.52,.13],[-2.09,-1.3,.19],[-2.53,-.69,.19],[-2.87,-.81,.22],[-2.74,-1.6,.22],[-1.94,-2.09,.2],[-2.28,-2.21,.21],[-1.13,-2.57,.18],[-1.46,-2.69,.2]];
const bondsC=[[2,3],[3,4],[4,0],[0,5],[5,6],[6,2],[4,7],[7,1],[1,-1],[1,12],[12,15],[15,14],[15,16],[16,20],[20,17],[17,18],[18,19],[19,16],[12,13],[13,11],[11,10],[11,21],[-1,22],[22,23],[23,24],[23,26],[26,24],[24,25],[25,27],[5,25],[27,28],[28,29],[29,30],[30,32],[32,34],[34,33],[33,24],[27,31],[31,33]];
const atomsD=[[-1.42,0,.14],[-.32,1.12,.17],[-3.1,.22,.18],[-2.58,.84,.17],[-1.74,.74,.17],[-1.92,-.61,.18],[-2.76,-.51,.18],[-1.17,1.4,.16],[-1.36,1.54,.14],[-1.36,2.25,.17],[.17,1.2,.13],[.45,.9,.135],[.32,1.69,.17],[.65,1.63,.14],[.13,3.25,.19],[.43,2.37,.18],[.66,2.34,.15],[1.22,2.89,.165],[1.5,2.86,.14],[1.2,2.25,.13],[1.15,2.11,.19],[1.19,.33,.11],[-.05,-1.14,.16],[-.76,-1.78,.15],[-1.07,-1.96,.17],[-1.56,-1.41,.17],[-1.39,-1.56,.1],[-1.81,-1.63,.19],[-1.56,-2.38,.2],[-.83,-2.71,.17],[-1.06,-2.93,.19]];
const atomsE=[[-1.37,-.14,.14],[-.14,1.11,.16],[-3.04,-.07,.175],[-2.59,.59,.165],[-1.76,.54,.165],[-1.8,-.81,.17],[-2.62,-.78,.175],[-1.37,1.51,.13],[-1.37,1.51,.13],[-1.45,2.43,.17],[.51,1.34,.13],[.69,.99,.135],[.5,1.71,.16],[.88,1.66,.14],[.15,3.2,.18],[.44,2.32,.17],[.76,2.31,.15],[1.34,2.87,.165],[1.7,2.87,.14],[1.46,2.25,.15],[1.07,2.01,.2],[1.39,.37,.125],[.07,-1.09,.16],[-.59,-1.78,.15],[-.86,-2.05,.17],[-1.38,-1.57,.18],[-1.2,-1.54,.1],[-1.57,-1.88,.19],[-1.25,-2.6,.2],[-.53,-2.77,.18],[-.72,-3.05,.185]];
const atomsF=[[-1.38,-.04,.14],[-.15,1.13,.16],[-3.0,.13,.17],[-2.55,.75,.17],[-1.74,.64,.165],[-1.81,-.66,.18],[-2.62,-.59,.18],[-1.44,1.53,.14],[-1.44,1.53,.14],[-1.39,2.53,.16],[.48,1.49,.13],[.7,1.06,.135],[.5,1.7,.16],[.87,1.69,.14],[.1,3.09,.19],[.38,2.26,.18],[.73,2.27,.16],[1.32,2.82,.17],[1.69,2.82,.14],[1.46,2.27,.15],[.99,1.92,.19],[1.36,.48,.12],[-.07,-1.01,.16],[-.74,-1.64,.15],[-.95,-1.89,.17],[-1.42,-1.43,.18],[-1.3,-1.5,.08],[-1.59,-1.73,.19],[-1.28,-2.48,.2],[-.65,-2.64,.17],[-.81,-2.93,.19],[-1.92,2.81,.14],[-1.59,2.43,.13]];
const bondsD=[[2,3],[3,4],[4,0],[0,5],[5,6],[6,2],[4,7],[7,1],[7,8],[8,9],[1,-1],[1,12],[12,15],[15,14],[15,16],[16,20],[20,19],[19,18],[18,17],[17,16],[12,13],[13,11],[11,10],[11,21],[-1,22],[22,23],[23,24],[5,25],[25,26],[26,23],[25,27],[27,28],[28,30],[30,29],[29,24]];
const bondsF=bondsD.concat([[9,31],[31,32],[32,8]]);
/* silicon centre, drawn over the ligand in E and F */
const siliconE=[[-1.12,1.43,.18]];
const siliconF=[[-1.13,1.44,.18]];
const siliconBondsE=[[4,-2],[-2,1],[-2,9],[-2,8]];
/* hafnium-adjacent labels: [x, y, half-size] */
const box1=[[-.13,-.02,.2],[-.28,-.07,.19],[-.29,.08,.155],[-.32,0,.24],[-.27,-.08,.19],[-.28,-.03,.2]];
const box2=[[1.28,-.01,.16],[1.34,-.04,.185],[1.18,.05,.17],[1.25,.02,.24],[1.27,-.04,.18],[1.21,-.06,.2]];
const rSi=[[1.81,1.06],[1.88,1.17],[1.91,1.29],[1.9,1.24],[1.93,1.17],[1.89,1.07]];
const rRe=[[1.86,-1.38],[1.86,-1.44],[1.79,-1.44],[1.88,-1.53],[1.97,-1.63],[1.97,-1.69]];
/* yellow substituent pointer polylines */
const siUpper=[[[.59,.47],[1.31,.47]],[[.65,.6],[1.39,.6]],[[.69,.71],[1.42,.71]],[[.68,.63],[1.4,.63]],[[.71,.57],[1.45,.57]],[[.68,.51],[1.39,.51]]];
const siLower=[[[.59,.33],[1.38,.33],[1.64,.7]],[[.65,.45],[1.45,.45],[1.7,.85]],[[.69,.58],[1.52,.58],[1.74,1.0]],[[.68,.49],[1.49,.49],[1.72,.87]],[[.71,.43],[1.5,.43],[1.75,.8]],[[.68,.36],[1.49,.36],[1.71,.75]]];
const reUpper=[[[.63,-.65],[1.44,-.65],[1.67,-1.02]],[[.63,-.71],[1.45,-.71],[1.67,-1.08]],[[.57,-.71],[1.38,-.71],[1.63,-1.11]],[[.65,-.78],[1.43,-.78],[1.66,-1.17]],[[.76,-.91],[1.56,-.91],[1.81,-1.3]],[[.76,-.97],[1.56,-.97],[1.79,-1.34]]];
const reLower=[[[.63,-.81],[1.35,-.81]],[[.63,-.86],[1.36,-.86]],[[.57,-.86],[1.3,-.86]],[[.65,-.94],[1.36,-.94]],[[.76,-1.06],[1.48,-1.06]],[[.76,-1.13],[1.49,-1.13]]];
/* ---------- layout (pixels) ---------- */
const frames=[[65,100,1042,1047],[1136,100,2112,1047],[2203,100,3184,1047],[67,1262,1045,2200],[1130,1259,2109,2204],[2194,1254,3172,2201]];
const titleSpots=[[60,81],[1137,81],[2199,81],[67,1234],[1130,1234],[2194,1234]];
const letterSpots=[[1040,84],[2112,84],[3184,84],[1040,1245],[2099,1245],[3164,1245]];
const nwSpots=[[85,163],[1157,163],[2223,166],[85,1325],[1148,1318],[2205,1320]];
const neSpots=[[1024,163],[2092,163],[3162,166],[1024,1323],[2088,1316],[3160,1316]];
const swSpots=[[85,1015],[1157,1018],[2223,1018],[85,2183],[1148,2177],[2205,2179]];
const seSpots=[[1020,1022],[2096,1026],[3164,1024],[1024,2186],[2088,2181],[3162,2183]];
const siSpots=[[896,512],[1978,508],[3022,496],[893,1676],[1959,1676],[3029,1676]];
const reSpots=[[892,758],[1974,758],[3020,762],[891,1898],[1950,1900],[3016,1900]];
const crossCaps=['v','vh','vh','','','v'];
const colorbarFrames=[[3245,100,3291,1047,3303],[3231,1254,3280,2201,3291]];

/* ---------- helpers ---------- */
const NS='http://www.w3.org/2000/svg';
const svg=document.getElementById('fig');
function mk(tag,attrs,parent){const el=document.createElementNS(NS,tag);for(const k in attrs)el.setAttribute(k,attrs[k]);(parent||svg).appendChild(el);return el;}
function bandColor(level){const i=Math.ceil((3.25-level)/0.25-1e-6);return bandColors[Math.max(0,Math.min(bandColors.length-1,i))];}
function ptsStr(pts,X,Y){return pts.map(p=>X(p[0]).toFixed(1)+','+Y(p[1]).toFixed(1)).join(' ');}
function arcPts(r,a1,a2){const o=[];for(let a=a1;a<=a2;a+=3)o.push([r*Math.cos(a*Math.PI/180),r*Math.sin(a*Math.PI/180)]);return o;}
function blend(a,b,t){return a.map((p,i)=>[p[0]+(b[i][0]-p[0])*t,p[1]+(b[i][1]-p[1])*t]);}
function stairs(poly){const g=0.085,out=[];for(let i=0;i<poly.length;i++){const a=poly[i],b=poly[(i+1)%poly.length],d=Math.hypot(b[0]-a[0],b[1]-a[1]),n=Math.max(1,Math.ceil(d/0.08));for(let k=0;k<n;k++){const x=Math.round((a[0]+(b[0]-a[0])*k/n)/g)*g,y=Math.round((a[1]+(b[1]-a[1])*k/n)/g)*g;const l=out[out.length-1];if(!l||l[0]!==x||l[1]!==y){if(l&&l[0]!==x&&l[1]!==y)out.push([x,l[1]]);out.push([x,y]);}}}return out;}

const allContours=[contoursA,contoursB,contoursC,contoursD,contoursE,contoursF];
const allEdges=[edgeA,edgeB,edgeC,edgeD,edgeE,edgeF];
const allAtoms=[atomsA,atomsB,atomsC,atomsD,atomsE,atomsF];
const allBonds=[bondsA,bondsB,bondsC,bondsD,bondsD,bondsF];
const allSilicon=[null,null,null,null,siliconE,siliconF];

function vbur(parent,spot,anchor,val,nameStr){
  const t=mk('text',{x:spot[0],y:spot[1],'text-anchor':anchor,'font-size':54,'font-weight':'bold'},parent);
  
  
  const a=mk('tspan',{},t);a.textContent='% ';
  const b=mk('tspan',{'font-style':'italic'},t);b.textContent='V';
  const c=mk('tspan',{'font-size':27,dy:9},t);c.textContent='Bur';
  const d=mk('tspan',{dy:-9},t);d.textContent=' = '+val;
}
function plain(parent,x,y,txt,size,anchor,bold,nameStr){
  const t=mk('text',{x:x,y:y,'font-size':size,'text-anchor':anchor,'font-weight':bold?'bold':'normal'},parent);
  
  
  t.textContent=txt;
  return t;
}

/* ---------- panels ---------- */
frames.forEach((f,pi)=>{
  const g=mk('g',{});
  
  
  const [x0,y0,x1,y1]=f;
  const X=v=>x0+(v+4)*(x1-x0)/8, Y=v=>y1-(v+4)*(y1-y0)/8;
  const sx=(x1-x0)/8;

  /* title and letter */
  const tt=plain(g,titleSpots[pi][0],titleSpots[pi][1],panelTitleRegular[pi],74,'start',false,'panel-title');
  const bold=mk('tspan',{'font-weight':'bold'},tt);bold.textContent=panelTitleBold[pi];
  plain(g,letterSpots[pi][0],letterSpots[pi][1],panelLetters[pi],74,'end',true,'panel-letter');

  /* frame */
  const fr=mk('rect',{x:x0,y:y0,width:x1-x0,height:y1-y0,fill:'none',stroke:'#8c8985','stroke-width':4},g);
  
  
  axisTicks.forEach(v=>{
    const l1=mk('path',{d:`M${X(v)} ${y0}v11M${X(v)} ${y1}v-11M${x0} ${Y(v)}h11M${x1} ${Y(v)}h-11`,stroke:'#777','stroke-width':2.5,fill:'none'},g);
    
    
    const tx=mk('text',{class:'tk',x:X(v),y:y1+36,'text-anchor':'middle'},g);
    
    
    tx.textContent=(v<0?'\u2212':'')+Math.abs(v);
    const ty=mk('text',{class:'tk',x:x0-8,y:Y(v)+11,'text-anchor':'end'},g);
    
    
    ty.textContent=(v<0?'\u2212':'')+Math.abs(v);
  });

  /* contour map clipped by silhouette */
  const ra=rimAngles[pi];
  const outline=arcPts(3.47,ra[0],ra[1]).concat(allEdges[pi]);
  const cid='clip'+pi;
  const cp=mk('clipPath',{id:cid},g);
  mk('polygon',{points:ptsStr(outline,X,Y)},cp);
  const map=mk('g',{'clip-path':`url(#${cid})`},g);
  
  
  const base=mk('polygon',{points:ptsStr(outline,X,Y),fill:bandColor(0)},map);
  
  
  rimLevels.forEach((lv,i)=>{
    const poly=arcPts(rimRadii[i],ra[0]-6,ra[1]+6).concat([[0,0]]);
    const el=mk('polygon',{points:ptsStr(poly,X,Y),fill:bandColor(lv),stroke:'#2a2a14','stroke-width':2.6,'stroke-linejoin':'round'},map);
    
    
  });
  allContours[pi].forEach(reg=>{
    const lv=reg[0],o=reg[1],inn=reg[2],w=reg[3]||2.6,pw=reg[4]||1;
    lv.forEach((L,i)=>{
      const poly=(lv.length>1&&inn)?blend(o,inn,Math.pow(i/(lv.length-1),pw)):o;
      const el=mk('polygon',{points:ptsStr(poly,X,Y),fill:bandColor(L),stroke:i===0&&w>3?'#0a0a0a':'#2a2a14','stroke-width':i===0?w:2.6,'stroke-linejoin':'round'},map);
      
      
    });
  });
  const sil=mk('path',{d:'M'+stairs(outline).map(p=>X(p[0]).toFixed(1)+' '+Y(p[1]).toFixed(1)).join('L')+'Z',fill:'none',stroke:'#050505','stroke-width':10,'stroke-linejoin':'miter'},g);
  
  

  /* quadrant cross */
  const c=crossCaps[pi];
  let dc=`M${X(-4)} ${Y(0)}H${X(4)}M${X(0)} ${Y(4)}V${Y(-4)}`;
  const cross=mk('path',{d:dc,stroke:'#050505','stroke-width':11,fill:'none'},g);
  
  
  let capD='';
  if(c.includes('v'))capD+=`M${X(0)} ${Y(4)+3}h24M${X(0)} ${Y(-4)-3}h24`;
  if(c.includes('h'))capD+=`M${X(-4)+3} ${Y(0)}v24M${X(4)-3} ${Y(0)}v24`;
  if(capD){
    const caps=mk('path',{d:capD,stroke:'#050505','stroke-width':8,fill:'none'},g);
    
    
  }

  /* text annotations */
  vbur(g,nwSpots[pi],'start',vburNW[pi],'vbur-nw');
  vbur(g,neSpots[pi],'end',vburNE[pi],'vbur-ne');
  vbur(g,swSpots[pi],'start',vburSW[pi],'vbur-sw');
  vbur(g,seSpots[pi],'end',vburSE[pi],'vbur-se');
  plain(g,nwSpots[pi][0],nwSpots[pi][1]+60,'NW',55,'start',true,'quadrant-nw');
  plain(g,neSpots[pi][0],neSpots[pi][1]+60,'NE',55,'end',true,'quadrant-ne');
  plain(g,swSpots[pi][0],swSpots[pi][1]-60,'SW',55,'start',true,'quadrant-sw');
  plain(g,seSpots[pi][0],seSpots[pi][1]-60,'SE',55,'end',true,'quadrant-se');
  const si=plain(g,siSpots[pi][0],siSpots[pi][1],'1,2 ',44,'start',true,'face-label-si');
  const si2=mk('tspan',{'font-style':'italic'},si);si2.textContent='si';
  const re=plain(g,reSpots[pi][0],reSpots[pi][1],'1,2 ',44,'start',true,'face-label-re');
  const re2=mk('tspan',{'font-style':'italic'},re);re2.textContent='re';

  /* molecule */
  const atoms=allAtoms[pi],silicon=allSilicon[pi];
  const at=i=>i===-1?[0,0]:i===-2?silicon[0]:atoms[i];
  const bonds=silicon?allBonds[pi].filter(b=>!(b[0]===4&&b[1]===7)&&!(b[0]===7&&b[1]===1)&&!(b[0]===7&&b[1]===8)&&!(b[0]===8&&b[1]===9)).concat(siliconBondsE):allBonds[pi];
  bonds.forEach(b=>{
    const A=at(b[0]),B=at(b[1]);
    if(!A||!B)return;
    const l=mk('line',{x1:X(A[0]),y1:Y(A[1]),x2:X(B[0]),y2:Y(B[1]),stroke:'#050505','stroke-width':8},g);
    
    
  });
  atoms.forEach((a,i)=>{
    if(!a)return;
    const el=mk('circle',{cx:X(a[0]),cy:Y(a[1]),r:a[2]*sx,fill:i<2?'#4b2a85':'#ffffff',stroke:i<2?'#4b2a85':'#cfcfcf','stroke-width':1.5},g);
    
    
  });
  if(silicon){
    const s=silicon[0];
    const el=mk('circle',{cx:X(s[0]),cy:Y(s[1]),r:s[2]*sx,fill:'#f6cdb4',stroke:'#c9a58e','stroke-width':2},g);
    
    
    const t=plain(g,X(s[0]),Y(s[1])+11,'Si',32,'middle',false,'silicon-label');
    t.setAttribute('style','fill:#7a5a48');
  }

  /* hafnium */
  const hf=mk('circle',{cx:X(0),cy:Y(0),r:.3*sx,fill:'#ef6c22'},g);
  
  
  const hft=plain(g,X(0)+4,Y(0)+15,'Hf',44,'middle',false,'hafnium-label');
  hft.setAttribute('style','fill:#8f4a20');

  /* position boxes */
  [box1[pi],box2[pi]].forEach((b,i)=>{
    const hx=b[2]*sx;
    const r=mk('rect',{x:X(b[0])-hx,y:Y(b[1])-hx,width:2*hx,height:2*hx,fill:'#fff',stroke:'#0a0a0a','stroke-width':4},g);
    
    
    plain(g,X(b[0]),Y(b[1])+hx*0.68,String(i+1),hx*1.9,'middle',false,'position-number');
  });

  /* yellow pointers and R */
  [siUpper[pi],siLower[pi],reUpper[pi],reLower[pi]].forEach(line=>{
    const p=mk('polyline',{points:ptsStr(line,X,Y),fill:'none',stroke:'#ffe900','stroke-width':5.5},g);
    
    
  });
  [rSi[pi],rRe[pi]].forEach(p=>{
    const cc=mk('circle',{cx:X(p[0]),cy:Y(p[1]),r:.37*sx,fill:'#ffec00'},g);
    
    
    plain(g,X(p[0]),Y(p[1])+20,'R',60,'middle',true,'substituent-r-label');
  });
});

/* ---------- colorbars ---------- */
colorbarFrames.forEach((c,ci)=>{
  const [x0,y0,x1,y1,tx]=c;
  const g=mk('g',{});
  
  
  const V=v=>y0+(3.5-v)*(y1-y0)/7;
  bandColors.forEach((col,i)=>{
    const top=3.5-i*0.25;
    const r=mk('rect',{x:x0,y:V(top),width:x1-x0,height:V(top-0.25)-V(top)+0.5,fill:col},g);
    
    
  });
  const b=mk('rect',{x:x0,y:y0,width:x1-x0,height:y1-y0,fill:'none',stroke:'#4a3f3a','stroke-width':3},g);
  
  
  colorbarTicks.forEach(v=>{
    const t=mk('text',{class:'cb',x:tx,y:V(v)+12},g);
    
    
    t.textContent=(v<0?'\u2212':'')+Math.abs(v).toFixed(2);
    const l=mk('line',{x1:x1-10,x2:x1,y1:V(v),y2:V(v),stroke:'#333','stroke-width':2},g);
    
    
  });
});
</script>
</body></html>
